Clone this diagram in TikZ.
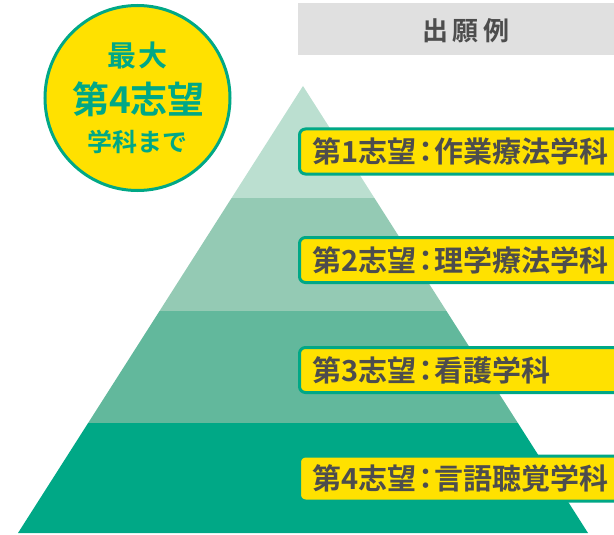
\documentclass[tikz,border=0pt]{standalone}
\usepackage{fontspec}
\setmainfont{Noto Sans CJK JP}[BoldFont={Noto Sans CJK JP Bold}]
\definecolor{gtone}{HTML}{00A886}
\definecolor{bandA}{HTML}{BBDFD0}
\definecolor{bandB}{HTML}{94CAB4}
\definecolor{bandC}{HTML}{62B89C}
\definecolor{bandD}{HTML}{00A886}
\definecolor{yel}{HTML}{FFE100}
\definecolor{txt}{HTML}{4D4D4D}
\definecolor{hdr}{HTML}{E0E0E0}
\tikzset{
  labelbox/.style={draw=gtone, line width=3pt, fill=yel, rounded corners=6pt,
    anchor=west, minimum height=45pt, text width=312pt, inner xsep=13pt,
    align=left, text=txt, font=\bfseries\fontsize{29}{29}\selectfont},
  circtext/.style={text=gtone, inner sep=0pt},
}
\newcommand{\colonj}{\kern-5.5pt：\kern-5.5pt}
\begin{document}
\begin{tikzpicture}[x=1pt,y=-1pt]
\useasboundingbox (0,0) rectangle (614,535);
% header
\fill[hdr] (298,3) rectangle (614,55);
\node[text=txt, font=\bfseries\fontsize{26}{26}\selectfont, inner sep=0pt] (hd) at (466,31) {出\kern5pt 願\kern5pt 例};
% pyramid
\begin{scope}
\clip (303,86) -- (18,533) -- (588,533) -- cycle;
\fill[bandA] (0,80) rectangle (614,198);
\fill[bandB] (0,198) rectangle (614,311);
\fill[bandC] (0,311) rectangle (614,423);
\fill[bandD] (0,423) rectangle (614,540);
\end{scope}
% labels
\node[labelbox] (l1) at (298,151.5) {第1志望\colonj 作業療法学科};
\node[labelbox] (l2) at (298,260) {第2志望\colonj 理学療法学科};
\node[labelbox] (l3) at (298,370) {第3志望\colonj 看護学科};
\node[labelbox] (l4) at (298,478.5) {第4志望\colonj 言語聴覚学科};
% circle
\node[circle, draw=gtone, line width=3pt, fill=yel, minimum size=185pt] (c) at (137.5,98) {};
\node[circtext, font=\bfseries\fontsize{29}{29}\selectfont] (c1) at (137.5,55) {最\kern3pt 大};
\node[circtext, font=\bfseries\fontsize{37}{37}\selectfont] (c2) at (138.5,99) {第4志望};
\node[circtext, font=\bfseries\fontsize{25}{25}\selectfont] (c3) at (137.5,142) {学科まで};
\end{tikzpicture}
\end{document}
